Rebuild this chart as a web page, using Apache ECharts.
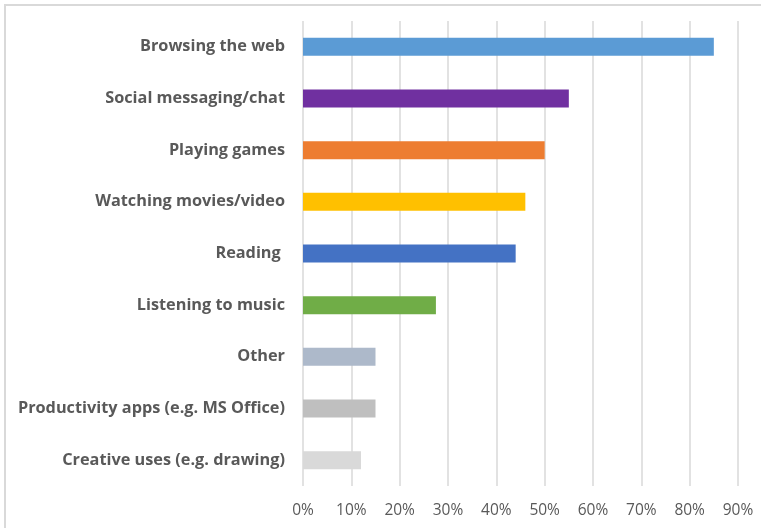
<!DOCTYPE html>
<html>
<head>
<meta charset="utf-8">
<script src="https://cdn.jsdelivr.net/npm/echarts@6/dist/echarts.min.js"></script>
<style>
  html, body { margin: 0; padding: 0; background: #ffffff; }
  #chart { width: 761px; height: 528px; }
</style>
</head>
<body>
<div id="chart"></div>
<script>
// Activities, listed top to bottom
const categories = [
  'Browsing the web',
  'Social messaging/chat',
  'Playing games',
  'Watching movies/video',
  'Reading ',
  'Listening to music',
  'Other',
  'Productivity apps (e.g. MS Office)',
  'Creative uses (e.g. drawing)'
];

// Share of respondents, in percent
const shares = [85, 55, 50, 46, 44, 27.5, 15, 15, 12];

// One fill per bar
const barColors = ['#5B9BD5', '#7030A0', '#ED7D31', '#FFC000', '#4472C4', '#70AD47', '#ADB9CA', '#BFBFBF', '#D9D9D9'];

// Axis range and tick step, percent
const axisMax = 90;
const axisStep = 10;

const chart = echarts.init(document.getElementById('chart'), null, { renderer: 'canvas' });

chart.setOption({
  animation: false,
  backgroundColor: '#ffffff',
  graphic: [{
    type: 'rect',
    shape: { x: 5, y: 5, width: 800, height: 600 },
    style: { fill: 'none', stroke: '#d9d9d9', lineWidth: 2 },
    silent: true,
    z: -1
  }],
  grid: { left: 303, right: 23, top: 21, bottom: 42, containLabel: false },
  xAxis: {
    type: 'value',
    min: 0,
    max: axisMax,
    interval: axisStep,
    axisLine: { show: false },
    axisTick: { show: false },
    splitLine: { show: true, lineStyle: { color: '#d9d9d9', width: 1.5 } },
    axisLabel: {
      formatter: '{value}%',
      color: '#595959',
      fontFamily: '"Open Sans", sans-serif',
      fontSize: 15.5,
      margin: 17
    }
  },
  yAxis: {
    type: 'category',
    data: categories,
    inverse: true,
    axisLine: { show: false },
    axisTick: { show: false },
    axisLabel: {
      color: '#595959',
      fontFamily: '"Open Sans", sans-serif',
      fontWeight: 'bold',
      fontSize: 16.3,
      margin: 18
    }
  },
  series: [{
    type: 'bar',
    data: shares.map((v, i) => ({ value: v, itemStyle: { color: barColors[i] } })),
    barWidth: 18
  }]
});
</script>
</body>
</html>
